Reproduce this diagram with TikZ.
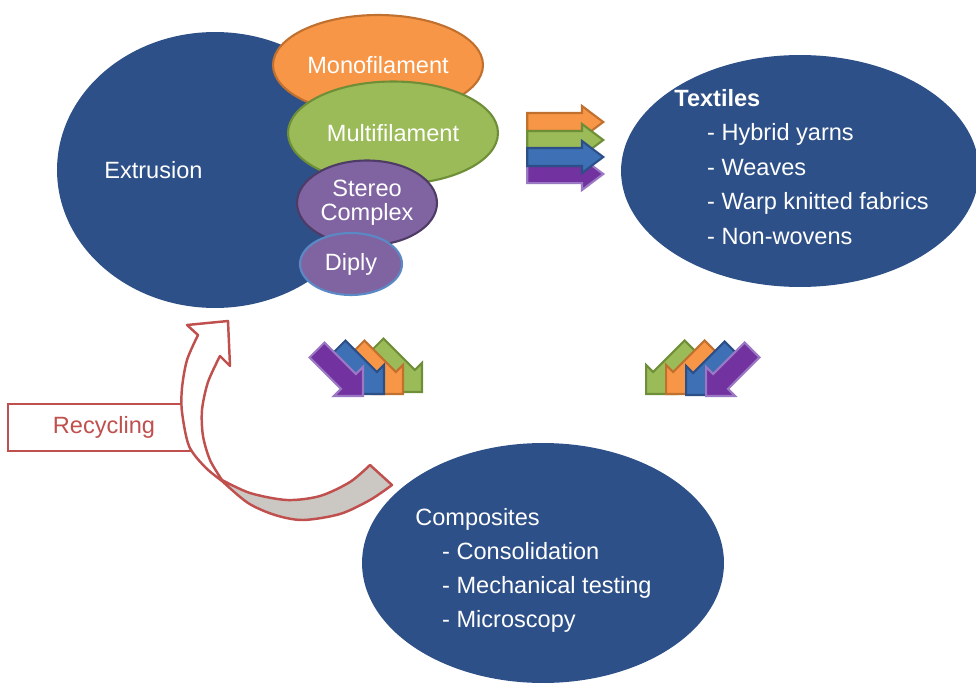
\documentclass[tikz,border=0pt]{standalone}
\usepackage{fontspec}
\setmainfont{Liberation Sans}
\usetikzlibrary{shapes.geometric,shapes.arrows}

\definecolor{navy}{HTML}{2E5088}
\definecolor{orfill}{HTML}{F79646}
\definecolor{orline}{HTML}{C0702F}
\definecolor{grfill}{HTML}{9BBB59}
\definecolor{grline}{HTML}{6E8E38}
\definecolor{blfill}{HTML}{3E70B6}
\definecolor{blline}{HTML}{2B4F86}
\definecolor{pufill}{HTML}{7232A0}
\definecolor{puline}{HTML}{9B78C4}
\definecolor{stfill}{HTML}{8064A2}
\definecolor{stline}{HTML}{4E3C66}
\definecolor{dpline}{HTML}{5A8AC6}
\definecolor{recred}{HTML}{C0504D}
\definecolor{backgray}{HTML}{CBC8C4}

\tikzset{
  blob/.style={ellipse,inner sep=0pt,text=white,align=center,line width=1.2pt},
  flowh/.style={single arrow,anchor=tip,inner xsep=0pt,inner ysep=0.16cm,
    minimum height=1.52cm,single arrow head extend=0.14cm,
    single arrow tip angle=74,line width=1.2pt},
  flowd/.style={single arrow,anchor=tip,inner xsep=0pt,inner ysep=0.19cm,
    minimum height=1.3cm,single arrow head extend=0.2cm,line width=1.2pt},
  orarr/.style={fill=orfill,draw=orline},
  grarr/.style={fill=grfill,draw=grline},
  blarr/.style={fill=blfill,draw=blline},
  puarr/.style={fill=pufill,draw=puline}
}

\begin{document}
\begin{tikzpicture}[x=0.02cm,y=-0.02cm,font=\fontsize{13.4}{13.6}\selectfont]
\useasboundingbox (0,0) rectangle (976,686);

% extrusion and its fibre types
\node [ellipse,fill=navy,minimum width=6.32cm,minimum height=5.52cm] (extr) at (215,170) {};
\node [anchor=west,text=white,inner sep=0pt] (extrtxt) at (104,170) {Extrusion};
\node [blob,fill=orfill,draw=orline,minimum width=4.2cm,minimum height=2cm] (mono) at (378,65) {Monofilament};
\node [blob,fill=grfill,draw=grline,minimum width=4.2cm,minimum height=2.06cm] (multi) at (393,133) {Multifilament};
\node [blob,fill=stfill,draw=stline,minimum width=2.8cm,minimum height=1.7cm] (stereo) at (367,203) {Stereo\\Complex};
\node [blob,fill=stfill,draw=dpline,minimum width=2.04cm,minimum height=1.24cm] (diply) at (351,264) {Diply};

% textiles
\node [ellipse,fill=navy,minimum width=7.16cm,minimum height=4.64cm] (tex) at (800,171) {};
\node [anchor=north west,inner sep=0pt,align=left,text=white,
  font=\fontsize{13.4}{19.6}\selectfont] (textxt) at (674,89)
  {\textbf{Textiles}\\\hspace{18.7pt}- Hybrid yarns\\\hspace{18.7pt}- Weaves\\
   \hspace{18.7pt}- Warp knitted fabrics\\\hspace{18.7pt}- Non-wovens};

% composites
\node [ellipse,fill=navy,minimum width=7.24cm,minimum height=4.8cm] (comp) at (543,563) {};
\node [anchor=north west,inner sep=0pt,align=left,text=white,
  font=\fontsize{13.4}{19.3}\selectfont] (comptxt) at (415,508)
  {Composites\\\hspace{15.3pt}- Consolidation\\\hspace{15.3pt}- Mechanical testing\\
   \hspace{15.3pt}- Microscopy};

% arrows towards textiles
\node [flowh,orarr] (h1) at (605,122) {};
\node [flowh,grarr] (h2) at (605,140) {};
\node [flowh,puarr] (h4) at (605,174) {};
\node [flowh,blarr] (h3) at (605,157) {};

% arrows towards composites
\node [flowd,grarr,rotate=-45] (l4) at (423,393) {};
\node [flowd,orarr,rotate=-45] (l3) at (404,395) {};
\node [flowd,blarr,rotate=-45] (l2) at (385,395) {};
\node [flowd,puarr,rotate=-45] (l1) at (364,397) {};

\node [flowd,grarr,rotate=-135] (r4) at (645,395) {};
\node [flowd,orarr,rotate=-135] (r3) at (665,395) {};
\node [flowd,blarr,rotate=-135] (r2) at (685,396) {};
\node [flowd,puarr,rotate=-135] (r1) at (705,397) {};

% recycling
\node [draw=recred,fill=white,line width=1.4pt,text=recred,
  minimum width=3.84cm,minimum height=0.94cm] (recyc) at (104,427.5) {Recycling};
\draw [recred,line width=1.4pt,line join=round,fill=backgray]
  plot [smooth] coordinates {(222,480) (250,493) (287,500) (320,496) (350,482) (370,465)}
  -- (392,485)
  -- plot [smooth] coordinates {(392,485) (370,500) (340,514) (303,520) (275,515) (248,503) (222,481)}
  -- cycle;
\draw [recred,line width=1.4pt,line join=round,fill=white]
  plot [smooth] coordinates {(222,481) (205,467) (189,446) (182,412) (182,388) (187,360) (198,335)}
  -- (187,325) -- (228,321) -- (230,366) -- (220,356)
  -- plot [smooth] coordinates {(220,356) (208,382) (202,410) (203,436) (210,460) (222,480)}
  -- cycle;
\end{tikzpicture}
\end{document}
